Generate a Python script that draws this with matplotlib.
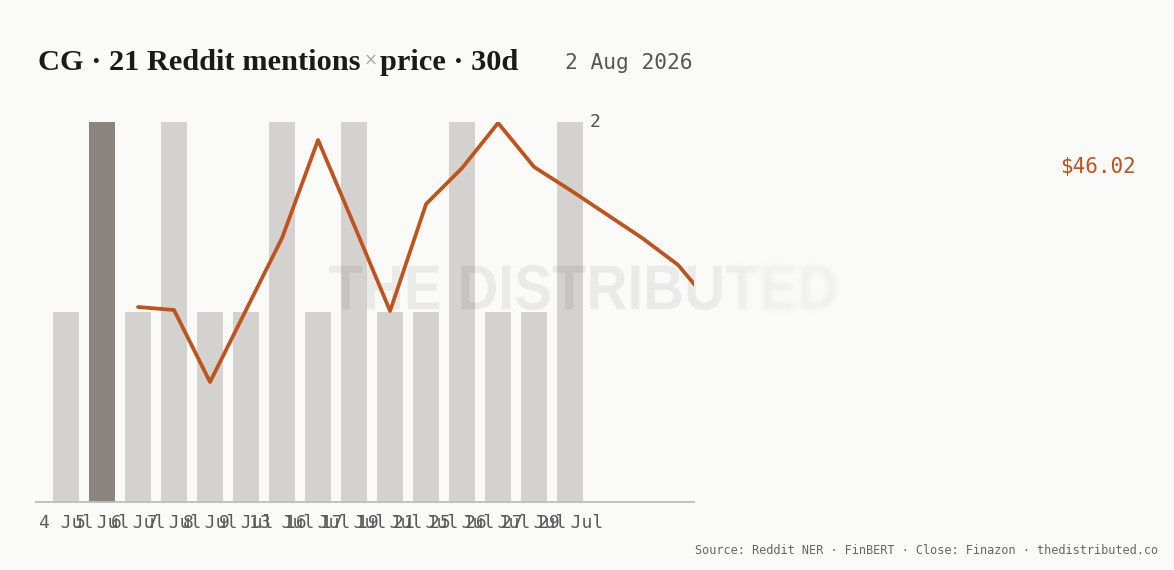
import numpy as np
import matplotlib
matplotlib.use("Agg")
from matplotlib import pyplot as plt
from matplotlib.path import Path
from matplotlib.textpath import TextPath
from matplotlib.font_manager import FontProperties
from matplotlib.transforms import Affine2D, blended_transform_factory

# mentions per day (bars)
dates = ["4 Jul", "5 Jul", "6 Jul", "7 Jul", "8 Jul", "9 Jul", "13 Jul", "16 Jul",
         "17 Jul", "19 Jul", "21 Jul", "25 Jul", "26 Jul", "27 Jul", "29 Jul"]
mentions = [1, 2, 1, 2, 1, 1, 2, 1, 2, 1, 1, 2, 1, 1, 2]
highlight = 1

# daily close, same slot index as the bars (runs past the last bar)
closes = [np.nan, np.nan, 43.22, 43.16, 41.72, 43.16, 44.60, 46.56, 44.86, 43.14,
          45.28, 46.00, 46.90, 46.02, 45.56, 45.08, 44.60, 44.06, 43.20]
last_close = 46.02

BG = "#fafaf8"
BAR = "#d3d2ce"
BAR_HI = "#8a857e"
ORANGE = "#bf531d"
GREY = "#555555"

W, H = 1174, 570
fig = plt.figure(figsize=(W / 100, H / 100), dpi=100, facecolor=BG)
ax = fig.add_axes([36 / W, (H - 502) / H, (694 - 36) / W, (502 - 122) / H])
ax.set_facecolor(BG)

x = np.arange(len(mentions))
colors = [BAR_HI if i == highlight else BAR for i in x]
ax.bar(x, mentions, width=0.72, color=colors, zorder=1)
ax.set_xlim(-0.833, 17.44)
ax.set_ylim(0, max(mentions))

ax.set_xticks(x)
ax.set_xticklabels(dates, family="DejaVu Sans Mono", fontsize=13, color="#5a5a5a")
ax.tick_params(axis="x", length=0, pad=9)
ax.set_yticks([])
for s in ["top", "right", "left"]:
    ax.spines[s].set_visible(False)
ax.spines["bottom"].set_color("#bdbdbb")
ax.spines["bottom"].set_linewidth(1.3)

ax.text(x[-1] + 0.36 + 0.17, max(mentions), str(max(mentions)), va="center", ha="left",
        family="DejaVu Sans Mono", fontsize=13, color=GREY)

# watermark raster: crisp on the left, blurred and faded on the right
fp = FontProperties(family="Liberation Sans", weight="bold")
tp = TextPath((0, 0), "THE DISTRIBUTED", size=100, prop=fp)
bb = tp.get_extents()
x0, x1, ytop, ybot = 329, 836, 265, 310
path = tp.transformed(Affine2D().translate(-bb.x0, -bb.y0)
                      .scale((x1 - x0) / bb.width, (ybot - ytop) / bb.height)
                      .translate(x0, H - ybot))
pad, ss = 12, 3
gx0, gx1, gy0, gy1 = x0 - pad, x1 + pad, ytop - pad, ybot + pad
nx, ny = gx1 - gx0, gy1 - gy0
sx = gx0 + (np.arange(nx * ss) + 0.5) / ss
sy = gy0 + (np.arange(ny * ss) + 0.5) / ss
XX, YY = np.meshgrid(sx, H - sy)
pts = np.column_stack([XX.ravel(), YY.ravel()])
inside = np.zeros(len(pts), dtype=bool)
for poly in path.to_polygons():
    inside ^= Path(poly).contains_points(pts)
mask = inside.reshape(ny * ss, nx * ss).astype(float)
mask = mask.reshape(ny, ss, nx, ss).mean(axis=(1, 3))

k = np.exp(-0.5 * (np.arange(-8, 9) / 3.0) ** 2)
k /= k.sum()
blur = np.apply_along_axis(lambda r: np.convolve(r, k, mode="same"), 1, mask)
blur = np.apply_along_axis(lambda c: np.convolve(c, k, mode="same"), 0, blur)

cx = gx0 + np.arange(nx) + 0.5
w = np.clip((765 - cx) / 60, 0, 1)[None, :]
alpha = 0.065 * (w * mask + (1 - w) * 0.75 * blur)
rgba = np.zeros((ny, nx, 4))
rgba[..., 3] = alpha
im = ax.imshow(rgba, extent=[gx0 / W, gx1 / W, (H - gy1) / H, (H - gy0) / H],
               transform=fig.transFigure, aspect="auto", zorder=2, interpolation="nearest")
im.set_clip_box(fig.bbox)

# price line on its own scale
ax2 = ax.twinx()
ax2.set_ylim(39.32, 46.92)
ax2.set_axis_off()
ax2.plot(np.arange(len(closes)), closes, color=ORANGE, lw=2.7, solid_capstyle="round",
         solid_joinstyle="round", zorder=3)
ax.set_xlim(-0.833, 17.44)
trans = blended_transform_factory(ax2.transAxes, ax2.transData)
ax2.text((1136 - 36) / (694 - 36), last_close, f"${last_close:.2f}", transform=trans,
         ha="right", va="center", family="DejaVu Sans Mono", fontsize=15, color=ORANGE,
         clip_on=False)

# title, built in pieces
r = fig.canvas.get_renderer()
ty = (H - 70) / H
t1 = fig.text(38 / W, ty, "CG · 21 Reddit mentions", family="Liberation Serif",
              weight="bold", fontsize=21.9, color="#1a1a1a", va="baseline")
e = t1.get_window_extent(r)
t2 = fig.text((e.x1 + 3) / W, ty + 4 / H, "×", family="DejaVu Sans", fontsize=12,
              color="#aaaaaa", va="baseline")
e = t2.get_window_extent(r)
t3 = fig.text((e.x1 + 3) / W, ty, "price · 30d", family="Liberation Serif",
              weight="bold", fontsize=21.9, color="#1a1a1a", va="baseline")
fig.text(565 / W, (H - 63) / H, "2 Aug 2026", family="DejaVu Sans Mono", fontsize=15.3,
         color=GREY, va="center")

fig.text(1158 / W, (H - 551) / H,
         "Source: Reddit NER · FinBERT · Close: Finazon · thedistributed.co",
         family="DejaVu Sans Mono", fontsize=8.6, color="#666666", ha="right", va="center")

fig.savefig("out.png", dpi=100, facecolor=BG)
